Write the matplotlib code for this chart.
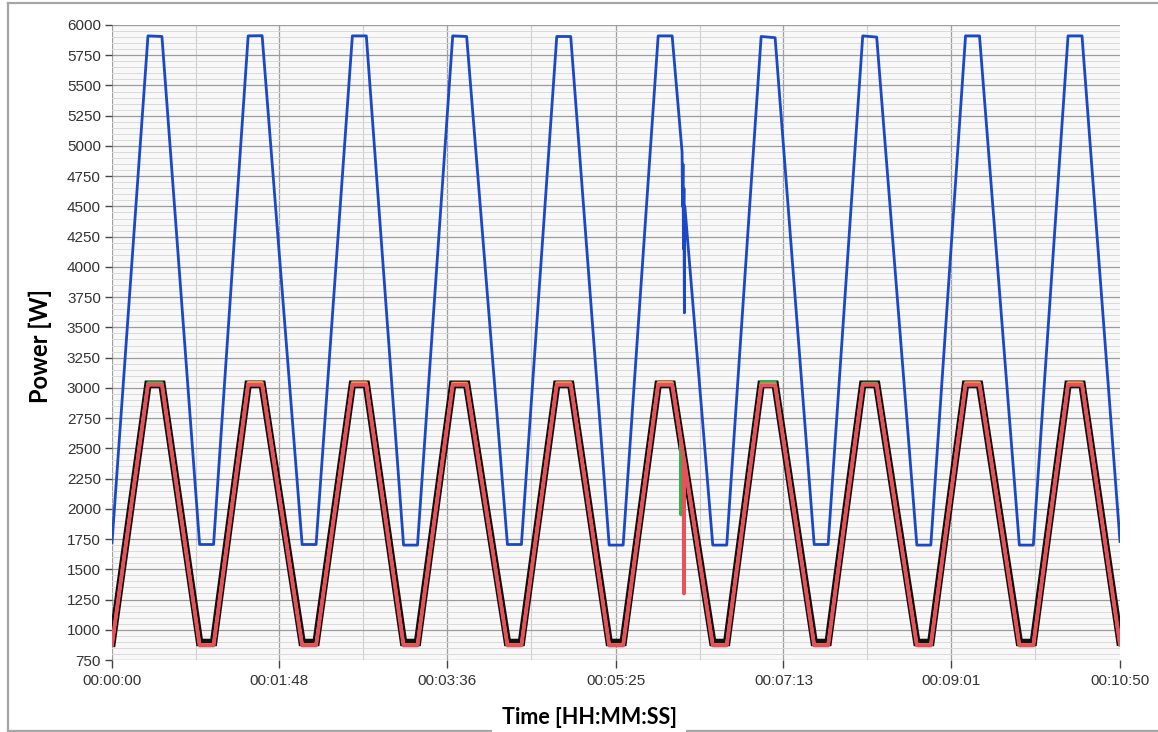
import matplotlib
matplotlib.use("Agg")
import matplotlib.pyplot as plt
from matplotlib.lines import Line2D
from matplotlib.ticker import FixedLocator, MultipleLocator

# ---------------- data ----------------
t_start, t_end = 0.0, 650.0
peak_start   = [23.2, 87.8, 155.0, 219.7, 286.8, 352.2, 418.6, 484.1, 550.4, 616.5]
peak_end     = [32.2, 96.8, 164.0, 228.7, 295.8, 361.2, 427.6, 493.1, 559.4, 625.5]
trough_start = [56.5, 122.6, 188.0, 255.0, 320.6, 387.4, 452.8, 519.0, 585.1]
trough_end   = [65.5, 131.6, 197.0, 264.0, 329.6, 396.4, 461.8, 528.0, 594.1]

blue_first, blue_last = 1720, 1730
blue_peak_a = [5910, 5910, 5910, 5910, 5905, 5910, 5905, 5910, 5910, 5910]
blue_peak_b = [5905, 5912, 5910, 5905, 5905, 5910, 5895, 5900, 5910, 5910]
blue_trough = [1705, 1705, 1700, 1705, 1700, 1700, 1705, 1700, 1700]
blue_spike_t = [367.6, 367.9, 368.2, 368.5, 368.8, 369.1, 369.4]
blue_spike_v = [4950, 4500, 4850, 4150, 4650, 3620, 4500]

black_first, black_last = 890, 900
black_peak   = [3030, 3030, 3030, 3030, 3030, 3030, 3030, 3030, 3030, 3030]
black_trough = [895, 895, 895, 895, 895, 895, 895, 895, 895]

red_first, red_last = 875, 880
red_peak   = [3025, 3025, 3025, 3025, 3025, 3025, 3020, 3025, 3025, 3025]
red_trough = [870, 870, 870, 870, 870, 870, 870, 870, 870]
red_spike_t = [368.6, 368.8, 369.0]
red_spike_v = [2420, 1300, 2400]

green_peak   = [3042, 3030, 3030, 3030, 3030, 3030, 3048, 3038, 3030, 3030]
green_trough = [875, 875, 875, 875, 875, 875, 875, 875, 875]
green_spike_t = [366.7, 366.9, 367.1]
green_spike_v = [2560, 1950, 2540]

orange_peak   = [3030, 3044, 3042, 3038, 3042, 3044, 3030, 3030, 3042, 3042]
orange_trough = [875, 875, 875, 875, 875, 875, 875, 875, 875]

tick_seconds = [0, 108, 216, 325, 433, 541, 650]
tick_labels = ["00:00:00", "00:01:48", "00:03:36", "00:05:25",
               "00:07:13", "00:09:01", "00:10:50"]


def build(first, last, pa, pb, tr, extra_t=(), extra_v=()):
    ts, vs = [t_start], [first]
    for i in range(len(pa)):
        ts += [peak_start[i], peak_end[i]]
        vs += [pa[i], pb[i]]
        if i < len(tr):
            ts += [trough_start[i], trough_end[i]]
            vs += [tr[i], tr[i]]
    ts.append(t_end)
    vs.append(last)
    pts = sorted(zip(list(ts) + list(extra_t), list(vs) + list(extra_v)))
    return [p[0] for p in pts], [p[1] for p in pts]


# ---------------- figure ----------------
W, H = 1158, 732
fig = plt.figure(figsize=(W / 100, H / 100), dpi=100)
fig.patch.set_facecolor("white")
ax = fig.add_axes([112 / W, 1 - 660 / H, (1120 - 112) / W, (660 - 25) / H])
ax.set_facecolor("#f8f8f8")

# grid
ax.set_xlim(0, 650)
ax.set_ylim(750, 6000)
ax.yaxis.set_major_locator(MultipleLocator(250))
ax.yaxis.set_minor_locator(MultipleLocator(50))
ax.xaxis.set_major_locator(FixedLocator(tick_seconds))
ax.xaxis.set_minor_locator(FixedLocator([(a + b) / 2 for a, b in zip(tick_seconds[:-1], tick_seconds[1:])]))
ax.set_xticklabels(tick_labels)
ax.grid(which="major", axis="y", color="#9c9c9c", lw=0.9)
ax.grid(which="minor", axis="y", color="#dadada", lw=0.7)
ax.grid(which="major", axis="x", color="#a0a0a0", lw=0.9)
ax.grid(which="minor", axis="x", color="#d0d0d0", lw=0.8)
ax.set_axisbelow(True)
for s in ax.spines.values():
    s.set_visible(False)

ax.tick_params(axis="both", which="major", direction="out", length=5, width=1,
               color="#444444", labelcolor="#333333", labelsize=11, pad=3)
ax.tick_params(axis="x", which="major", length=6, pad=4)
ax.tick_params(which="minor", length=0)
for lab in ax.get_xticklabels() + ax.get_yticklabels():
    lab.set_fontfamily("Liberation Sans")
ax.get_xgridlines()[-1].set_visible(False)

# series
bt, bv = build(black_first, black_last, black_peak, black_peak, black_trough)
ax.plot(bt, bv, color="#111111", lw=5.4, solid_joinstyle="miter", zorder=3)
gt, gv = build(green_trough[0], green_trough[-1], green_peak, green_peak, green_trough,
               green_spike_t, green_spike_v)
ax.plot(gt, gv, color="#2fb34a", lw=2.2, zorder=4)
ot, ov = build(orange_trough[0], orange_trough[-1], orange_peak, orange_peak, orange_trough)
ax.plot(ot, ov, color="#f29a4a", lw=2.2, zorder=4)
rt, rv = build(red_first, red_last, red_peak, red_peak, red_trough, red_spike_t, red_spike_v)
ax.plot(rt, rv, color="#e8505a", lw=2.7, zorder=5)
ut, uv = build(blue_first, blue_last, blue_peak_a, blue_peak_b, blue_trough,
               blue_spike_t, blue_spike_v)
ax.plot(ut, uv, color="#1a48c6", lw=2.0, zorder=6)

# axis labels
fig.text(40 / W, 1 - 346 / H, "Power [W]", rotation=90, ha="center", va="center",
         fontsize=17, fontweight="bold", family="Lato", color="black")

# outer frame (top, left, bottom)
frame_kw = dict(color="#a6a6a6", lw=1.6, transform=fig.transFigure)
fig.add_artist(Line2D([8 / W, 1.0], [1 - 3 / H, 1 - 3 / H], **frame_kw))
fig.add_artist(Line2D([8 / W, 8 / W], [1 - 3 / H, 1 - 731 / H], **frame_kw))
fig.add_artist(Line2D([8 / W, 1.0], [1 - 731 / H, 1 - 731 / H], **frame_kw))

fig.text(589 / W, 1 - 718 / H, "Time [HH:MM:SS]", ha="center", va="center",
         fontsize=15.5, fontweight="bold", family="Lato", color="black",
         bbox=dict(boxstyle="square,pad=0.45", fc="white", ec="none"))

fig.savefig("out.png", dpi=100)
